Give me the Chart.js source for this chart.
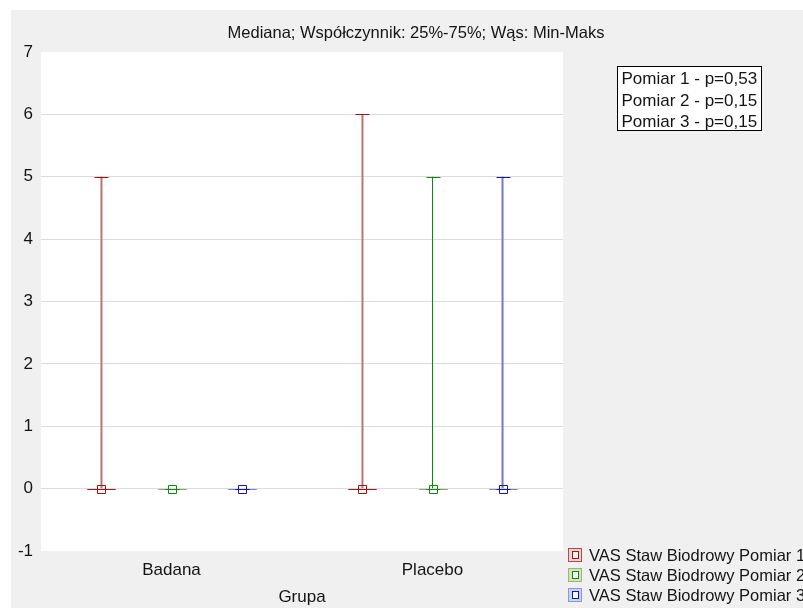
<!DOCTYPE html>
<html>
<head>
<meta charset="utf-8">
<script src="https://cdn.jsdelivr.net/npm/chart.js@4.4.1/dist/chart.umd.min.js"></script>
<style>
  html, body { margin: 0; padding: 0; background: #ffffff; overflow: hidden; }
  #wrap { width: 803px; height: 608px; }
  canvas { display: block; }
</style>
</head>
<body>
<div id="wrap"><canvas id="chart" width="803" height="608"></canvas></div>
<script>
// Groups on the category axis
const categories = ['Badana', 'Placebo'];

// Series names (one box per series inside each group)
const seriesNames = [
  'VAS Staw Biodrowy Pomiar 1',
  'VAS Staw Biodrowy Pomiar 2',
  'VAS Staw Biodrowy Pomiar 3'
];

// Box statistics per series, one value per group (Badana, Placebo)
const pomiar1Min    = [0, 0];
const pomiar1Q1     = [0, 0];
const pomiar1Median = [0, 0];
const pomiar1Q3     = [0, 0];
const pomiar1Max    = [5, 6];

const pomiar2Min    = [0, 0];
const pomiar2Q1     = [0, 0];
const pomiar2Median = [0, 0];
const pomiar2Q3     = [0, 0];
const pomiar2Max    = [0, 5];

const pomiar3Min    = [0, 0];
const pomiar3Q1     = [0, 0];
const pomiar3Median = [0, 0];
const pomiar3Q3     = [0, 0];
const pomiar3Max    = [0, 5];

// Value axis ticks
const yTicks = [-1, 0, 1, 2, 3, 4, 5, 6, 7];

// Test results shown in the note box
const noteLines = ['Pomiar 1 - p=0,53', 'Pomiar 2 - p=0,15', 'Pomiar 3 - p=0,15'];

const chartTitle = 'Mediana; Współczynnik: 25%-75%; Wąs: Min-Maks';
const xAxisTitle = 'Grupa';

// ---- styling ----
const FONT = "'Liberation Sans', Arial, sans-serif";
const TEXT = '#141414';
const darkColors    = ['#a81010', '#0c8c0c', '#1414a8'];
const whiskerColors = ['#bb7474', '#0c8a0c', '#7878c6'];
const whiskerWidths = [2, 1, 2];
const boxColors     = ['#a81818', '#8ca46c', '#7484c0'];
const legendFill    = ['#ecd2d2', '#d6e4bc', '#c8d2ec'];
const legendEdge    = ['#b24a4a', '#9eb27e', '#8a9ad0'];

const stats = [
  { min: pomiar1Min, q1: pomiar1Q1, median: pomiar1Median, q3: pomiar1Q3, max: pomiar1Max },
  { min: pomiar2Min, q1: pomiar2Q1, median: pomiar2Median, q3: pomiar2Q3, max: pomiar2Max },
  { min: pomiar3Min, q1: pomiar3Q1, median: pomiar3Median, q3: pomiar3Q3, max: pomiar3Max }
];

// Page / plot backgrounds
const backgroundPlugin = {
  id: 'panelBackground',
  beforeDraw(chart) {
    const { ctx, chartArea: a } = chart;
    ctx.save();
    ctx.fillStyle = '#ffffff';
    ctx.fillRect(0, 0, chart.width, chart.height);
    ctx.fillStyle = '#f0f0f0';
    ctx.fillRect(11, 10, chart.width - 11, chart.height - 10);
    ctx.fillStyle = '#ffffff';
    ctx.fillRect(a.left, a.top, a.right - a.left, a.bottom - a.top);
    ctx.restore();
  }
};

// Whisker caps, boxes and median markers, positioned from the bar elements and the y scale
const boxPlotPlugin = {
  id: 'boxParts',
  afterDatasetsDraw(chart) {
    const { ctx } = chart;
    const y = chart.scales.y;
    ctx.save();
    ctx.lineWidth = 1;
    chart.data.datasets.forEach((ds, i) => {
      const meta = chart.getDatasetMeta(i);
      const s = stats[i];
      meta.data.forEach((bar, j) => {
        const cx = Math.round(bar.x) + 0.5;
        const yMin = Math.round(y.getPixelForValue(s.min[j])) + 0.5;
        const yMax = Math.round(y.getPixelForValue(s.max[j])) + 0.5;
        const yQ1 = Math.round(y.getPixelForValue(s.q1[j])) + 0.5;
        const yQ3 = Math.round(y.getPixelForValue(s.q3[j])) + 0.5;
        const yMed = Math.round(y.getPixelForValue(s.median[j])) + 0.5;
        // box (25%-75%)
        ctx.strokeStyle = boxColors[i];
        ctx.beginPath();
        ctx.rect(cx - 14, Math.min(yQ1, yQ3), 28, Math.abs(yQ1 - yQ3));
        ctx.stroke();
        // caps
        ctx.strokeStyle = darkColors[i];
        ctx.beginPath();
        ctx.moveTo(cx - 7, yMax); ctx.lineTo(cx + 7, yMax);
        ctx.moveTo(cx - 7, yMin); ctx.lineTo(cx + 7, yMin);
        ctx.stroke();
        // median marker
        ctx.beginPath();
        ctx.rect(cx - 4, yMed - 4, 8, 8);
        ctx.stroke();
      });
    });
    ctx.restore();
  }
};

// Title, note box and legend
const decorPlugin = {
  id: 'decor',
  afterDraw(chart) {
    const { ctx } = chart;
    ctx.save();
    ctx.fillStyle = TEXT;
    ctx.font = '16.5px ' + FONT;
    ctx.textAlign = 'center';
    ctx.textBaseline = 'middle';
    ctx.fillText(chartTitle, 416, 33.5);

    // note box
    ctx.fillStyle = '#ffffff';
    ctx.fillRect(617.5, 66.5, 144, 64);
    ctx.strokeStyle = '#000000';
    ctx.lineWidth = 1;
    ctx.strokeRect(617.5, 66.5, 144, 64);
    ctx.fillStyle = TEXT;
    ctx.font = '17px ' + FONT;
    ctx.textAlign = 'left';
    noteLines.forEach((t, k) => ctx.fillText(t, 621.5, 79.5 + k * 21.5));

    // legend
    seriesNames.forEach((name, k) => {
      const cy = 555 + k * 20;
      ctx.fillStyle = legendFill[k];
      ctx.fillRect(568, cy - 7, 14, 14);
      ctx.strokeStyle = legendEdge[k];
      ctx.strokeRect(568.5, cy - 6.5, 13, 13);
      ctx.fillStyle = '#f6f6f6';
      ctx.fillRect(572, cy - 3, 6, 6);
      ctx.strokeStyle = darkColors[k];
      ctx.strokeRect(572.5, cy - 3.5, 6, 7);
      ctx.fillStyle = TEXT;
      ctx.font = '16.5px ' + FONT;
      ctx.fillText(name, 589, cy + 1);
    });
    ctx.restore();
  }
};

new Chart(document.getElementById('chart'), {
  type: 'bar',
  data: {
    labels: categories,
    datasets: seriesNames.map((name, i) => ({
      label: name,
      data: categories.map((_, j) => [stats[i].min[j], stats[i].max[j]]),
      backgroundColor: whiskerColors[i],
      borderWidth: 0,
      maxBarThickness: whiskerWidths[i],
      categoryPercentage: 0.805,
      barPercentage: 1
    }))
  },
  options: {
    responsive: false,
    animation: false,
    devicePixelRatio: 1,
    layout: { padding: { left: 0, top: 52, right: 240, bottom: 0 } },
    plugins: {
      legend: { display: false },
      title: { display: false },
      tooltip: { enabled: false }
    },
    scales: {
      x: {
        type: 'category',
        offset: true,
        grid: { display: false },
        border: { display: false },
        ticks: { color: TEXT, font: { family: FONT, size: 17 }, padding: 1, maxRotation: 0 },
        title: { display: true, text: xAxisTitle, color: TEXT, font: { family: FONT, size: 17 }, padding: { top: 0, bottom: 0 } },
        afterFit(scale) { scale.height = 57; }
      },
      y: {
        min: yTicks[0],
        max: yTicks[yTicks.length - 1],
        afterBuildTicks(scale) { scale.ticks = yTicks.map(v => ({ value: v })); },
        ticks: { color: TEXT, font: { family: FONT, size: 17 }, padding: 8 },
        grid: {
          drawTicks: false,
          color: ctx => (ctx.tick && (ctx.tick.value === yTicks[0] || ctx.tick.value === yTicks[yTicks.length - 1])) ? 'rgba(0,0,0,0)' : '#dcdcdc'
        },
        border: { display: false },
        afterFit(scale) { scale.width = 41; }
      }
    }
  },
  plugins: [backgroundPlugin, boxPlotPlugin, decorPlugin]
});
</script>
</body>
</html>
